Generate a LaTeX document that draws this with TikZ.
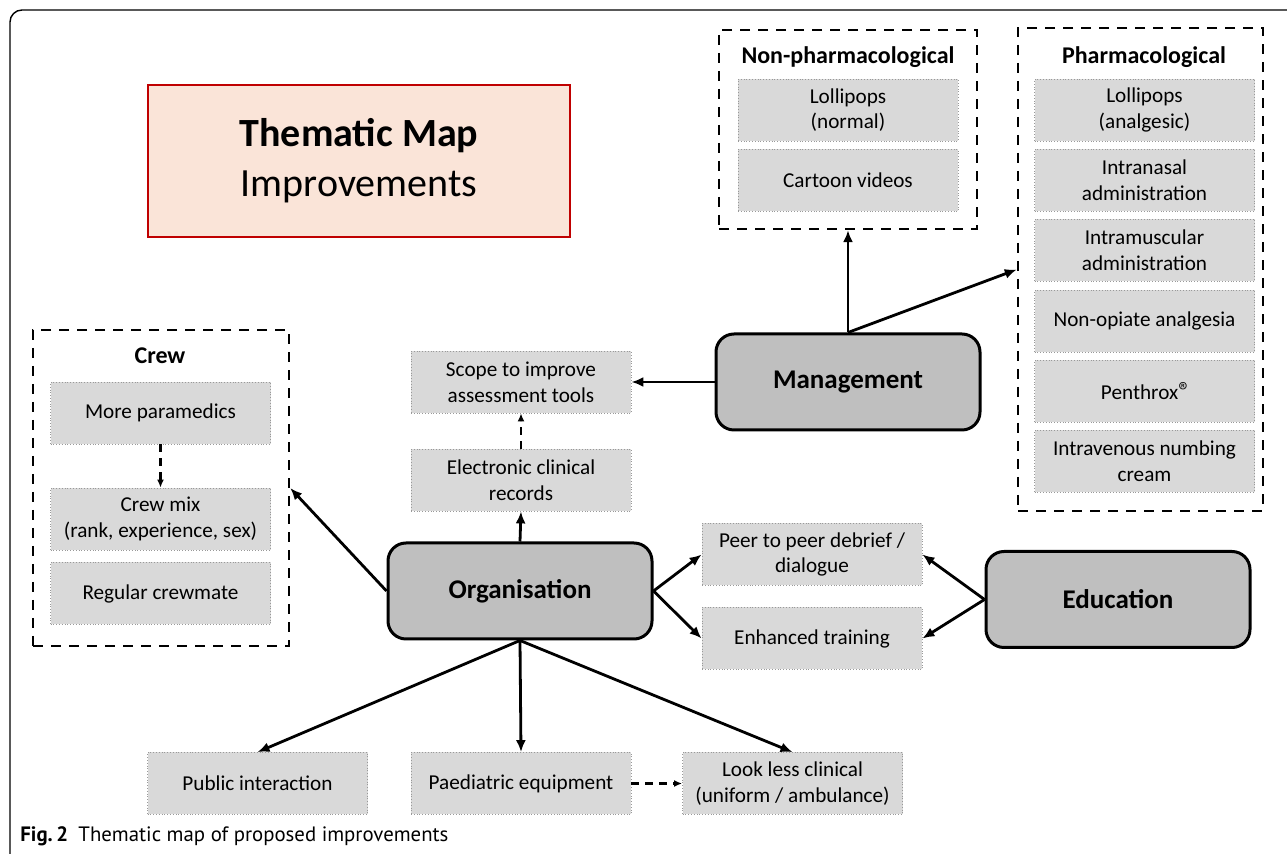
\documentclass[tikz,border=0pt]{standalone}
\usepackage{fontspec}
\setmainfont{Carlito}
\newfontfamily\capfont{PT Sans}
\usepackage{tikz}
\usetikzlibrary{positioning,arrows,arrows.meta}

\definecolor{itemgray}{HTML}{D9D9D9}
\definecolor{themegray}{HTML}{BFBFBF}
\definecolor{titlefill}{HTML}{FAE4D8}
\definecolor{titleline}{HTML}{C00000}

\begin{document}
\begin{tikzpicture}[x=0.5pt,y=-0.5pt]
		\tikzset{item/.style = {draw=gray!80, densely dotted, fill=itemgray, minimum width=110pt,
			minimum height=31pt, align=center, inner sep=1pt, font=\fontsize{10.6}{12.8}\selectfont}}
		\tikzset{group/.style = {draw, line width=1.2pt, dash pattern=on 5pt off 4pt}}
		\tikzset{grouptitle/.style = {font=\fontsize{12}{14}\selectfont\bfseries}}
		\tikzset{theme/.style = {draw, line width=1.5pt, rounded corners=9pt, fill=themegray,
			minimum width=132pt, minimum height=48pt, font=\fontsize{13.5}{16}\selectfont\bfseries}}
		\tikzset{func/.style = {-{Latex[length=6pt,width=5pt]}, line width=1.4pt}}
		\tikzset{link/.style = {-{Latex[length=4pt,width=3.5pt]}, line width=1.2pt, dash pattern=on 4pt off 3pt}}

		\useasboundingbox (0,0) rectangle (1287,854);

		% frame
		\draw[line width=0.7pt, rounded corners=6pt] (10,880) -- (10,10) -- (1310,10);

		% title
		\node[draw=titleline, line width=1.4pt, fill=titlefill, minimum width=211pt, minimum height=76pt,
			align=center, font=\fontsize{20}{25}\selectfont] (title) at (359,161)
			{\textbf{Thematic Map}\\Improvements};

		% non-pharmacological
		\node[group, minimum width=129pt, minimum height=99.5pt] (nonpharm) at (848,129.5){};
		\node[grouptitle] at (848,57) {Non-pharmacological};
		\node[item] (lolli) at (848,110) {Lollipops\\(normal)};
		\node[item] (cartoon) at (848,180.5) {Cartoon videos};

		% pharmacological
		\node[group, minimum width=122.5pt, minimum height=241.5pt] (pharm) at (1140.5,269.5){};
		\node[grouptitle] at (1144,57) {Pharmacological};
		\node[item] (lollian) at (1144.5,110) {Lollipops\\(analgesic)};
		\node[item] (nasal) at (1144.5,180) {Intranasal\\administration};
		\node[item] (muscular) at (1144.5,250) {Intramuscular\\administration};
		\node[item] (nonopiate) at (1144.5,321) {Non-opiate analgesia};
		\node[item] (penthrox) at (1144.5,391) {Penthrox\raisebox{0.75ex}{\capfont\fontsize{7}{8}\selectfont ®}};
		\node[item] (venous) at (1144.5,461) {Intravenous numbing\\cream};

		% crew
		\node[group, minimum width=128pt, minimum height=158pt] (crew) at (161,488){};
		\node[grouptitle] at (160,356) {Crew};
		\node[item] (paramedics) at (160.5,413) {More paramedics};
		\node[item] (crewmix) at (160.5,519) {Crew mix\\(rank, experience, sex)};
		\node[item] (crewmate) at (160.5,593.5) {Regular crewmate};
		\draw[link] (paramedics) -- (crewmix);

		% themes
		\node[theme] (mgmt) at (848,382) {Management};
		\node[theme] (org) at (520,591) {Organisation};
		\node[theme] (edu) at (1118,599.5) {Education};

		% other items
		\node[item] (scope) at (521,382) {Scope to improve\\assessment tools};
		\node[item] (records) at (521,480) {Electronic clinical\\records};
		\node[item] (peer) at (812,554.5) {Peer to peer debrief /\\dialogue};
		\node[item] (training) at (812,638.5) {Enhanced training};
		\node[item] (public) at (257.5,783.5) {Public interaction};
		\node[item] (paed) at (521,783.5) {Paediatric equipment};
		\node[item] (clinical) at (792.5,783.5) {Look less clinical\\(uniform / ambulance)};

		% management
		\draw[func] (mgmt.north) -- (nonpharm.south);
		\draw[func] (mgmt.north) -- (pharm.west);
		\draw[func] (mgmt.west) -- (scope.east);

		% organisation
		\draw[func] (org.north) -- (records.south);
		\draw[link] (records) -- (scope);
		\draw[func] (org.west) -- (crew.east);
		\draw[func] (org.east) -- (peer.west);
		\draw[func] (org.east) -- (training.west);
		\draw[func] (org.south) -- (public.north);
		\draw[func] (org.south) -- (paed.north);
		\draw[func] (org.south) -- (clinical.north);
		\draw[link] (paed) -- (clinical);

		% education
		\draw[func] (edu.west) -- (peer.east);
		\draw[func] (edu.west) -- (training.east);

		% caption
		\node[anchor=west, inner sep=0pt, font=\capfont\fontsize{10.4}{12}\selectfont] (caption) at (20,836)
			{\textbf{Fig.\,2}\enspace Thematic map of proposed improvements};
	\end{tikzpicture}
\end{document}
